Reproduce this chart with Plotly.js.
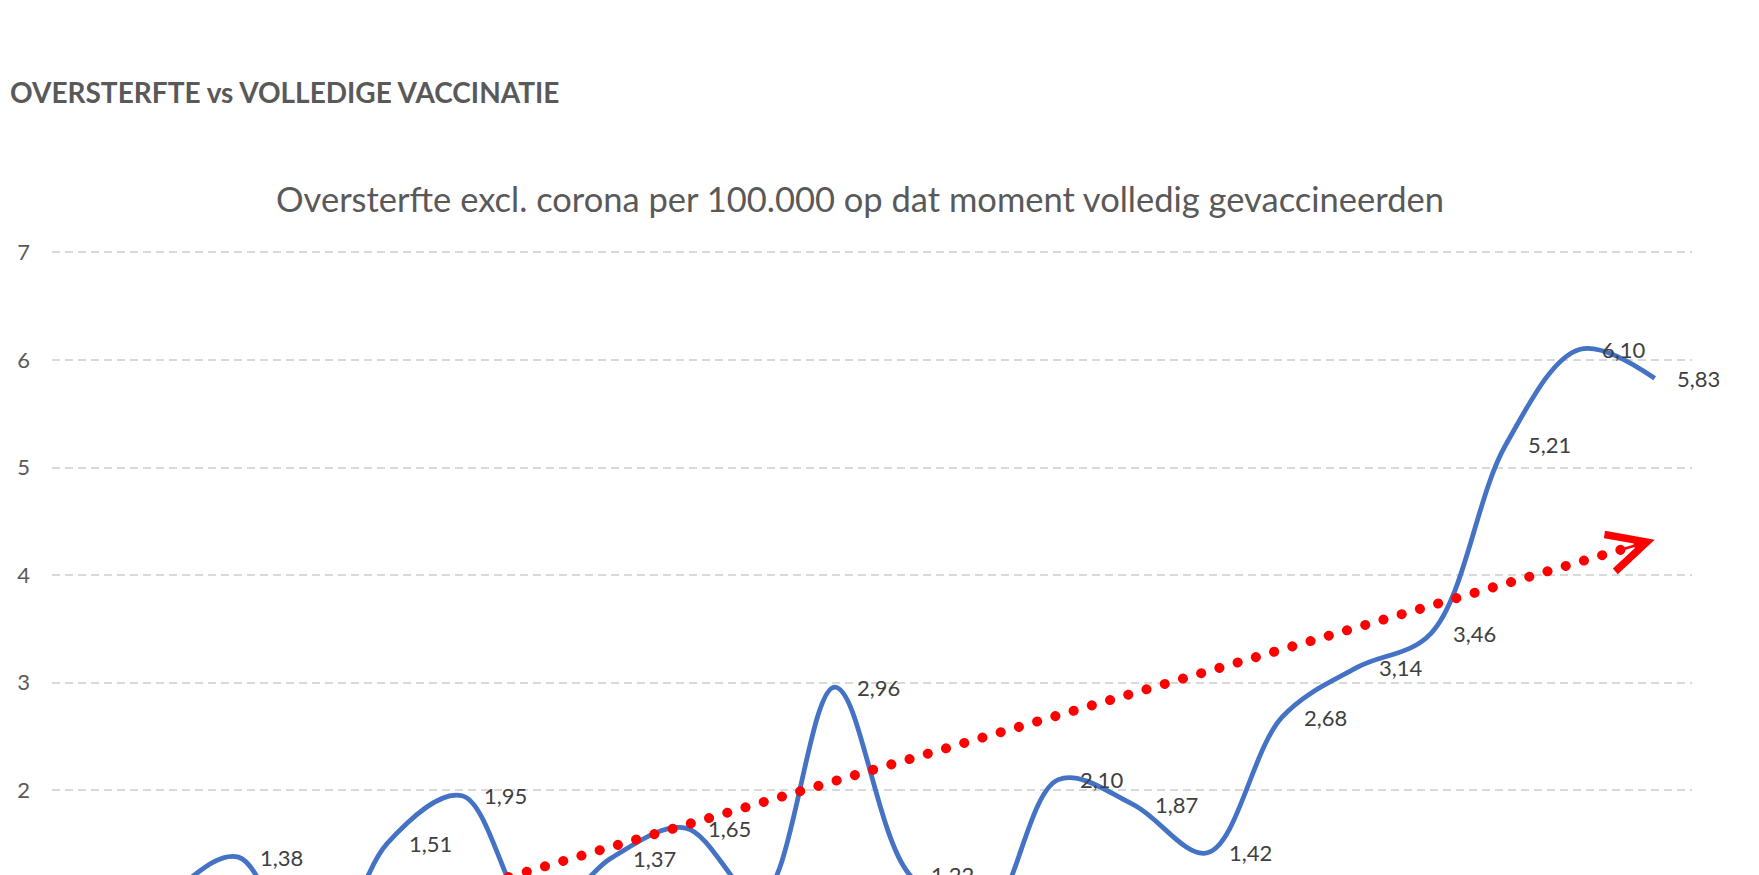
<!DOCTYPE html>
<html>
<head>
<meta charset="utf-8">
<script src="https://cdn.plot.ly/plotly-3.0.1.min.js"></script>
<style>
  html, body { margin: 0; padding: 0; background: #ffffff; }
  #chart { width: 1759px; height: 875px; }
  .scatterlayer .trace:nth-of-type(2) path.js-line { stroke-linecap: round; }
</style>
</head>
<body>
<div id="chart"></div>
<script>
// ---- data (values below 1.2 lie outside the visible area and are estimated) ----
const weeks = [0,1,2,3,4,5,6,7,8,9,10,11,12,13,14,15,16,17,18,19,20,21];
const oversterfte = [0.50,1.00,1.38,0.20,1.51,1.95,0.80,1.37,1.65,1.00,2.96,1.22,0.80,2.10,1.87,1.42,2.68,3.14,3.46,5.21,6.10,5.83];
const yTicks = [2,3,4,5,6,7];
const mainHeading = 'OVERSTERFTE vs VOLLEDIGE VACCINATIE';
const chartTitle = 'Oversterfte excl. corona per 100.000 op dat moment volledig gevaccineerden';

// ---- linear trendline (least squares, like Excel's linear trendline) ----
const n = weeks.length;
const mx = weeks.reduce((a,b)=>a+b,0)/n;
const my = oversterfte.reduce((a,b)=>a+b,0)/n;
let sxy = 0, sxx = 0;
for (let i=0;i<n;i++){ sxy += (weeks[i]-mx)*(oversterfte[i]-my); sxx += (weeks[i]-mx)**2; }
const slope = sxy/sxx, intercept = my - slope*mx;
const trendX = [weeks[0], weeks[n-1]];
const trendY = trendX.map(x => intercept + slope*x);

const FONT = 'Lato, "Open Sans", sans-serif';

const traces = [
  { x: weeks, y: oversterfte, type: 'scatter', mode: 'lines',
    line: { color: '#4472C4', width: 4.8, shape: 'spline', smoothing: 1 },
    hoverinfo: 'skip', showlegend: false },
  { x: trendX, y: trendY, type: 'scatter', mode: 'lines',
    line: { color: '#FF0000', width: 10, dash: '0.1px,18.9px' },
    hoverinfo: 'skip', showlegend: false }
];

const labelAnns = weeks.map((w,i) => ({
  x: w, y: oversterfte[i], xref: 'x', yref: 'y',
  text: oversterfte[i].toFixed(2).replace('.', ','),
  showarrow: false, xanchor: 'left', yanchor: 'middle', xshift: 20,
  font: { family: FONT, size: 22, color: '#404040' }
}));

const tipX = weeks[n-1];
const tailX = tipX - 0.45;
const arrowAnn = {
  x: tipX, y: intercept + slope*tipX, xref: 'x', yref: 'y',
  ax: tailX, ay: intercept + slope*tailX, axref: 'x', ayref: 'y',
  text: '', showarrow: true, arrowhead: 5, arrowsize: 2.9, arrowwidth: 2.6,
  arrowcolor: '#FF0000'
};

const headingAnn = {
  xref: 'paper', yref: 'paper', x: (8-52)/1640, y: (875-92)/628,
  xanchor: 'left', yanchor: 'middle', showarrow: false,
  text: '<b>' + mainHeading + '</b>',
  font: { family: FONT, size: 28, color: '#595959' }
};

const layout = {
  width: 1759, height: 875,
  margin: { l: 52, r: 67, t: 247, b: 0, pad: 0 },
  paper_bgcolor: '#ffffff', plot_bgcolor: '#ffffff',
  showlegend: false,
  title: { text: chartTitle, font: { family: FONT, size: 34.5, color: '#595959' },
           xref: 'paper', x: (860-52)/1640, xanchor: 'center',
           yref: 'container', y: 1 - 200/875, yanchor: 'middle' },
  xaxis: { range: [-0.5, 21.5], showgrid: false, zeroline: false, showline: false,
           showticklabels: false, ticks: '', fixedrange: true },
  yaxis: { range: [7.05 - 628/107.6, 7.05], tickvals: yTicks, ticktext: yTicks.map(String),
           showgrid: true, gridcolor: '#d9d9d9', gridwidth: 2, griddash: '8px,5px',
           zeroline: false, showline: false, ticks: '', ticklabelstandoff: 21,
           tickfont: { family: FONT, size: 22, color: '#595959' }, fixedrange: true },
  annotations: [headingAnn, arrowAnn].concat(labelAnns)
};

Plotly.newPlot('chart', traces, layout, { displayModeBar: false, staticPlot: true });
</script>
</body>
</html>
